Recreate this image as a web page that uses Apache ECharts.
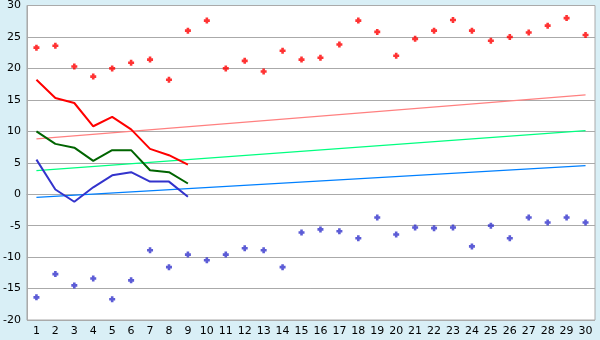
<!DOCTYPE html>
<html><head><meta charset="utf-8">
<script src="https://cdn.jsdelivr.net/npm/echarts@6/dist/echarts.min.js"></script>
<style>html,body{margin:0;padding:0;background:#D9EFF6;}#c{width:600px;height:340px;}</style>
</head><body><div id="c"></div>
<script>
var categories = ['1','2','3','4','5','6','7','8','9','10','11','12','13','14','15','16','17','18','19','20','21','22','23','24','25','26','27','28','29','30'];
var redPoints = [23.3,23.6,20.3,18.7,20.0,20.9,21.4,18.2,26.0,27.6,20.0,21.2,19.5,22.8,21.4,21.7,23.8,27.6,25.8,22.0,24.7,26.0,27.7,26.0,24.4,25.0,25.7,26.8,28.0,25.3];
var bluePoints = [-16.4,-12.7,-14.5,-13.4,-16.7,-13.7,-8.9,-11.6,-9.6,-10.5,-9.6,-8.6,-8.9,-11.6,-6.1,-5.6,-5.9,-7.0,-3.7,-6.4,-5.3,-5.4,-5.3,-8.3,-5.0,-7.0,-3.7,-4.5,-3.7,-4.5];
var redLine = [18.2,15.3,14.5,10.8,12.3,10.3,7.2,6.2,4.7];
var greenLine = [10.0,8.0,7.4,5.3,7.0,7.0,3.8,3.5,1.7];
var blueLine = [5.5,0.75,-1.2,1.1,3.0,3.5,2.0,2.0,-0.4];
var redTrend = [8.8,15.8];
var greenTrend = [3.76,10.1];
var blueTrend = [-0.5,4.55];
var yTicks = [-20,-15,-10,-5,0,5,10,15,20,25,30];

function trend(ends){
  var d = categories.map(function(){return '-';});
  d[0] = ends[0]; d[categories.length-1] = ends[1];
  return d;
}
var plus = 'path://M1.7,0 L4.3,0 L4.3,1.7 L6,1.7 L6,4.3 L4.3,4.3 L4.3,6 L1.7,6 L1.7,4.3 L0,4.3 L0,1.7 L1.7,1.7 Z';
var chart = echarts.init(document.getElementById('c'), null, {renderer:'canvas'});
var font = 'DejaVu Sans';
chart.setOption({
  animation:false,
  backgroundColor:'#D9EFF6',
  grid:{left:26,right:5,top:5,bottom:20,show:true,backgroundColor:'#fff',borderColor:'#aaa',borderWidth:1},
  xAxis:{type:'category',data:categories,boundaryGap:true,
    axisLine:{lineStyle:{color:'#aaa'}},
    axisTick:{alignWithLabel:true,length:5,lineStyle:{color:'#000'}},
    axisLabel:{color:'#000',fontFamily:font,fontSize:11,margin:6,interval:0},
    splitLine:{show:false}},
  yAxis:{type:'value',min:yTicks[0],max:yTicks[yTicks.length-1],interval:5,
    axisLine:{show:true,lineStyle:{color:'#aaa'}},
    axisTick:{show:false},
    axisLabel:{color:'#000',fontFamily:font,fontSize:11,margin:6},
    splitLine:{lineStyle:{color:'#aaa',width:1}}},
  series:[
    {type:'line',data:trend(redTrend),connectNulls:true,symbol:'none',lineStyle:{color:'#FF8080',width:1.3},z:1},
    {type:'line',data:trend(greenTrend),connectNulls:true,symbol:'none',lineStyle:{color:'#00FF80',width:1.3},z:1},
    {type:'line',data:trend(blueTrend),connectNulls:true,symbol:'none',lineStyle:{color:'#0080FF',width:1.3},z:1},
    {type:'line',data:redLine,symbol:'none',lineStyle:{color:'#FF0000',width:2},z:2},
    {type:'line',data:greenLine,symbol:'none',lineStyle:{color:'#006400',width:2},z:2},
    {type:'line',data:blueLine,symbol:'none',lineStyle:{color:'#3333CC',width:2},z:2},
    {type:'scatter',data:redPoints,symbol:plus,symbolSize:6,itemStyle:{color:'#FF0000'},z:3},
    {type:'scatter',data:bluePoints,symbol:plus,symbolSize:6,itemStyle:{color:'#3333CC'},z:3}
  ]
});
</script></body></html>
